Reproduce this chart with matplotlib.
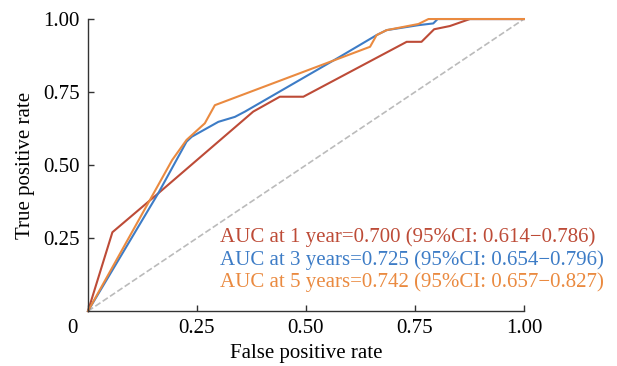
import matplotlib
matplotlib.use("Agg")
import matplotlib.pyplot as plt

plt.rcParams['font.family'] = ['Liberation Serif', 'DejaVu Serif']

# ROC curves (false positive rate, true positive rate)
fpr_1y = [0, 0.056, 0.161, 0.379, 0.44, 0.494, 0.731, 0.765, 0.794, 0.83, 0.876, 1.0]
tpr_1y = [0, 0.27, 0.403, 0.683, 0.734, 0.734, 0.922, 0.922, 0.965, 0.976, 1.0, 1.0]

fpr_3y = [0, 0.161, 0.226, 0.238, 0.299, 0.337, 0.36, 0.578, 0.662, 0.685, 0.758, 0.792, 0.802, 1.0]
tpr_3y = [0, 0.403, 0.58, 0.597, 0.648, 0.665, 0.683, 0.871, 0.945, 0.962, 0.979, 0.985, 1.0, 1.0]

fpr_5y = [0, 0.193, 0.226, 0.268, 0.291, 0.647, 0.662, 0.685, 0.758, 0.781, 1.0]
tpr_5y = [0, 0.517, 0.586, 0.643, 0.705, 0.905, 0.945, 0.962, 0.983, 1.0, 1.0]

labels = [
    "AUC at 1 year=0.700 (95%CI: 0.614\u22120.786)",
    "AUC at 3 years=0.725 (95%CI: 0.654\u22120.796)",
    "AUC at 5 years=0.742 (95%CI: 0.657\u22120.827)",
]
colors = ["#BD4B37", "#3D7CC6", "#EA8A40"]

fig = plt.figure(figsize=(6.17, 3.66), dpi=100)
ax = fig.add_axes([0.1426, 0.150, 0.7066, 0.798])

# reference diagonal
ax.plot([0, 1], [0, 1], linestyle='--', color='#BBBBBB', lw=1.2, clip_on=False)

curves = [(fpr_1y, tpr_1y), (fpr_3y, tpr_3y), (fpr_5y, tpr_5y)]
for (x, y), c in zip(curves, colors):
    ax.plot(x, y, color=c, lw=1.5, clip_on=False)

ax.set_xlim(0, 1)
ax.set_ylim(0, 1)
ax.spines['top'].set_visible(False)
ax.spines['right'].set_visible(False)
for s in ['left', 'bottom']:
    ax.spines[s].set_color('#333333')
    ax.spines[s].set_linewidth(1.0)

ax.set_xticks([0, 0.25, 0.5, 0.75, 1.0])
ax.set_xticklabels(['', '0.25', '0.50', '0.75', '1.00'])
ax.set_yticks([0.25, 0.5, 0.75, 1.0])
ax.set_yticklabels(['0.25', '0.50', '0.75', '1.00'])
ax.tick_params(direction='in', length=4, width=1.0, color='#333333',
               labelsize=15, pad=6)
ax.annotate('0', xy=(0, 0), xytext=(-11.5, -6), textcoords='offset points',
            ha='center', va='top', fontsize=15)

ax.set_xlabel('False positive rate', fontsize=15, labelpad=4)
ax.set_ylabel('True positive rate', fontsize=15, labelpad=6)

text_y = [0.253, 0.175, 0.099]
for lab, c, ty in zip(labels, colors, text_y):
    ax.text(0.303, ty, lab, color=c, fontsize=15, va='center', ha='left')

fig.savefig('out.png', dpi=100)
